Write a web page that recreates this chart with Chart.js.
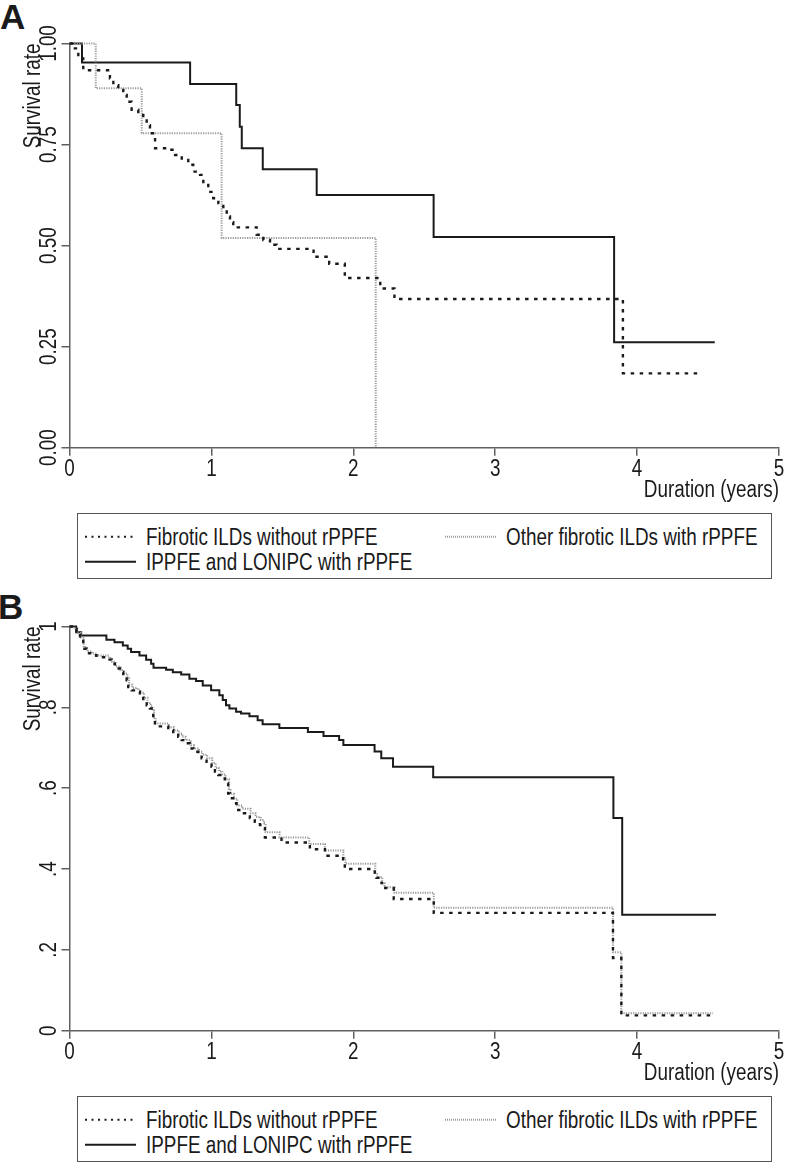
<!DOCTYPE html>
<html>
<head>
<meta charset="utf-8">
<script src="https://cdn.jsdelivr.net/npm/chart.js@4.4.1/dist/chart.umd.min.js"></script>
<style>
  html, body { margin: 0; padding: 0; background: #fff; }
  body { width: 787px; height: 1166px; position: relative; overflow: hidden;
         font-family: 'Liberation Sans', Arial, Helvetica, sans-serif; color: #1a1a1a; }
  .panel { position: absolute; left: 0; }
  .tag { position: absolute; font-weight: bold; font-size: 35px; line-height: 35px; }
  .legend { position: absolute; left: 77px; width: 695px; height: 66px; box-sizing: border-box;
            border: 1.5px solid #555; }
  .item { position: absolute; height: 26px; line-height: 26px; font-size: 23px; white-space: nowrap; }
  .item svg { position: absolute; left: 0; top: 0; }
  /* narrow type, like the original figure */
  .item span { position: absolute; left: 61px; top: 0; transform: scaleX(0.82); transform-origin: 0 50%; }
</style>
</head>
<body>
<div class="tag" style="left:0; top:-1.5px">A</div>
<canvas id="chartA" class="panel" width="787" height="510" style="top:0"></canvas>
<div class="legend" style="top:513px">
  <div class="item" style="left:6.5px; top:10px">
    <svg width="51" height="26"><line x1="0" y1="12.7" x2="51" y2="12.7" stroke="#1a1a1a" stroke-width="2" stroke-dasharray="2 4.5"/></svg>
    <span>Fibrotic ILDs without rPPFE</span></div>
  <div class="item" style="left:366.5px; top:10px">
    <svg width="51" height="26"><line x1="0" y1="12.7" x2="51" y2="12.7" stroke="#9a9a9a" stroke-width="2" stroke-dasharray="1 1"/></svg>
    <span>Other fibrotic ILDs with rPPFE</span></div>
  <div class="item" style="left:6.5px; top:35px">
    <svg width="51" height="26"><line x1="0" y1="12.7" x2="51" y2="12.7" stroke="#1a1a1a" stroke-width="2"/></svg>
    <span>IPPFE and LONIPC with rPPFE</span></div>
</div>

<div class="tag" style="left:-2px; top:588.5px">B</div>
<canvas id="chartB" class="panel" width="787" height="510" style="top:583px"></canvas>
<div class="legend" style="top:1096px">
  <div class="item" style="left:6.5px; top:10px">
    <svg width="51" height="26"><line x1="0" y1="12.7" x2="51" y2="12.7" stroke="#1a1a1a" stroke-width="2" stroke-dasharray="2 4.5"/></svg>
    <span>Fibrotic ILDs without rPPFE</span></div>
  <div class="item" style="left:366.5px; top:10px">
    <svg width="51" height="26"><line x1="0" y1="12.7" x2="51" y2="12.7" stroke="#9a9a9a" stroke-width="2" stroke-dasharray="1 1"/></svg>
    <span>Other fibrotic ILDs with rPPFE</span></div>
  <div class="item" style="left:6.5px; top:35px">
    <svg width="51" height="26"><line x1="0" y1="12.7" x2="51" y2="12.7" stroke="#1a1a1a" stroke-width="2"/></svg>
    <span>IPPFE and LONIPC with rPPFE</span></div>
</div>

<script>
// axis labels
const xTickLabels = ['0', '1', '2', '3', '4', '5'];
const yTickLabelsA = ['0.00', '0.25', '0.50', '0.75', '1.00'];
const yTickLabelsB = ['0', '.2', '.4', '.6', '.8', '1'];
const groupNames = ['Fibrotic ILDs without rPPFE', 'Other fibrotic ILDs with rPPFE', 'IPPFE and LONIPC with rPPFE'];

// Panel A - Kaplan-Meier steps (years, survival)
const timeA_noPPFE = [0, 0.027, 0.062, 0.097, 0.285, 0.309, 0.344, 0.379, 0.403, 0.438, 0.485, 0.52, 0.544, 0.567, 0.603,
  0.685, 0.744, 0.791, 0.837, 0.872, 0.92, 0.943, 0.978, 1.013, 1.049, 1.084, 1.108, 1.131, 1.154, 1.319, 1.366, 1.413,
  1.46, 1.72, 1.83, 1.94, 2.19, 2.29, 3.90, 4.44];
const survA_noPPFE = [1, 0.988, 0.963, 0.934, 0.914, 0.897, 0.889, 0.873, 0.856, 0.836, 0.823, 0.815, 0.798, 0.778, 0.741,
  0.737, 0.724, 0.712, 0.700, 0.683, 0.675, 0.654, 0.633, 0.617, 0.605, 0.592, 0.572, 0.558, 0.545, 0.527, 0.514, 0.502,
  0.492, 0.4725, 0.455, 0.42, 0.394, 0.368, 0.184, 0.184];

const timeA_other = [0, 0.185, 0.509, 1.072, 2.158];
const survA_other = [1, 0.889, 0.778, 0.519, 0];

const timeA_ippfe = [0, 0.088, 0.850, 1.175, 1.200, 1.214, 1.362, 1.742, 2.566, 3.838, 4.547];
const survA_ippfe = [1, 0.953, 0.900, 0.848, 0.794, 0.741, 0.689, 0.625, 0.521, 0.261, 0.261];

// Panel B
const timeB_noPPFE = [0, 0.027, 0.05, 0.074, 0.097, 0.121, 0.156, 0.19, 0.273, 0.297, 0.32, 0.356, 0.379, 0.403, 0.414,
  0.438, 0.473, 0.496, 0.52, 0.544, 0.567, 0.579, 0.59, 0.602, 0.696, 0.731, 0.766, 0.79, 0.813, 0.849, 0.872, 0.907,
  0.931, 0.966, 1.001, 1.025, 1.048, 1.072, 1.095, 1.118, 1.13, 1.154, 1.177, 1.213, 1.271, 1.306, 1.342, 1.365, 1.377,
  1.494, 1.694, 1.80, 1.928, 1.94, 2.151, 2.163, 2.199, 2.215, 2.285, 2.567, 3.83, 3.889, 4.534];
const survB_noPPFE = [1, 0.994, 0.982, 0.970, 0.945, 0.934, 0.929, 0.924, 0.918, 0.908, 0.896, 0.887, 0.879, 0.867, 0.850,
  0.842, 0.838, 0.830, 0.8175, 0.805, 0.797, 0.785, 0.768, 0.753, 0.7435, 0.735, 0.727, 0.719, 0.711, 0.698, 0.690, 0.682,
  0.674, 0.665, 0.653, 0.641, 0.6325, 0.624, 0.612, 0.587, 0.575, 0.563, 0.546, 0.538, 0.526, 0.517, 0.509, 0.501, 0.478,
  0.4657, 0.449, 0.433, 0.415, 0.400, 0.386, 0.378, 0.365, 0.353, 0.326, 0.2915, 0.180, 0.038, 0.038];

const timeB_other = [0, 0.03, 0.055, 0.08, 0.10, 0.125, 0.16, 0.195, 0.278, 0.30, 0.325, 0.36, 0.385, 0.408, 0.42,
  0.443, 0.478, 0.50, 0.525, 0.55, 0.572, 0.585, 0.596, 0.607, 0.70, 0.736, 0.77, 0.795, 0.818, 0.854, 0.877, 0.912,
  0.936, 0.97, 1.006, 1.03, 1.053, 1.077, 1.10, 1.123, 1.136, 1.159, 1.182, 1.218, 1.276, 1.311, 1.347, 1.37, 1.382,
  1.48, 1.69, 1.80, 1.93, 1.945, 2.155, 2.168, 2.204, 2.22, 2.29, 2.567, 3.83, 3.889, 4.534];
const survB_other = [1, 0.995, 0.984, 0.973, 0.949, 0.938, 0.933, 0.928, 0.922, 0.913, 0.901, 0.892, 0.884, 0.872, 0.856,
  0.848, 0.844, 0.836, 0.824, 0.811, 0.803, 0.792, 0.775, 0.760, 0.751, 0.743, 0.735, 0.727, 0.719, 0.706, 0.698, 0.690,
  0.683, 0.674, 0.662, 0.650, 0.642, 0.634, 0.622, 0.598, 0.586, 0.574, 0.557, 0.549, 0.538, 0.529, 0.521, 0.513, 0.491,
  0.478, 0.462, 0.446, 0.427, 0.413, 0.39, 0.38, 0.365, 0.355, 0.341, 0.304, 0.194, 0.043, 0.043];

const timeB_ippfe = [0, 0.047, 0.082, 0.26, 0.317, 0.376, 0.41, 0.434, 0.493, 0.54, 0.575, 0.592, 0.681, 0.728, 0.787,
  0.845, 0.892, 0.939, 0.998, 1.056, 1.08, 1.103, 1.127, 1.174, 1.209, 1.268, 1.326, 1.361, 1.479, 1.68, 1.79, 1.90,
  1.93, 2.15, 2.197, 2.28, 2.563, 3.833, 3.895, 4.556];
const survB_ippfe = [1, 0.986, 0.978, 0.967, 0.961, 0.953, 0.945, 0.937, 0.928, 0.918, 0.908, 0.898, 0.893, 0.887, 0.881,
  0.871, 0.865, 0.854, 0.842, 0.830, 0.818, 0.805, 0.797, 0.789, 0.785, 0.778, 0.768, 0.758, 0.749, 0.739, 0.729, 0.719,
  0.707, 0.691, 0.674, 0.653, 0.627, 0.526, 0.287, 0.287];

const ink = '#1a1a1a';
const axisColor = '#606060';
const font = { family: "'Liberation Sans', Arial, Helvetica, sans-serif", size: 23 };
const NARROW = 0.82; // no narrow font installed, so squeeze glyphs along the text direction

const toPoints = (times, surv) => times.map((t, i) => ({ x: t, y: surv[i] }));

// styles per group: dotted black, fine grey dots, solid black
const lineStyles = [
  { borderColor: ink, borderWidth: 2.4, borderDash: [3.5, 5.5] },
  { borderColor: '#9a9a9a', borderWidth: 2, borderDash: [1.2, 1.2] },
  { borderColor: ink, borderWidth: 2, borderDash: [] }
];

function narrowText(ctx) {
  const fill = CanvasRenderingContext2D.prototype.fillText;
  ctx.fillText = function (text, x, y) {
    this.save();
    this.translate(x, y);
    this.scale(NARROW, 1);
    fill.call(this, text, 0, 0);
    this.restore();
  };
}

function makeChart(canvasId, series, yLabels, yStep, yTickPad) {
  const ctx = document.getElementById(canvasId).getContext('2d');
  narrowText(ctx);
  return new Chart(ctx, {
    type: 'line',
    data: {
      datasets: series.map((s, i) => ({
        label: groupNames[i],
        data: toPoints(s[0], s[1]),
        stepped: true,
        fill: false,
        pointRadius: 0,
        clip: 6,
        ...lineStyles[i]
      }))
    },
    options: {
      responsive: false,
      animation: false,
      devicePixelRatio: 1,
      layout: { padding: { top: 43.5, right: 8, bottom: 2.3, left: 0 } },
      plugins: { legend: { display: false }, tooltip: { enabled: false } },
      scales: {
        x: {
          type: 'linear', min: 0, max: 5,
          ticks: { stepSize: 1, color: ink, font, padding: 0, maxRotation: 0,
                   callback: v => xTickLabels[Math.round(v)] },
          grid: { display: true, drawOnChartArea: false, drawTicks: true, tickLength: 8,
                  color: axisColor, lineWidth: 1.5 },
          border: { display: true, color: axisColor, width: 1.5 },
          title: { display: true, text: 'Duration (years)', align: 'end', color: ink, font,
                   padding: { top: 0, bottom: 3 } },
          afterFit: s => { s.height = 60; }
        },
        y: {
          min: 0, max: 1,
          ticks: { stepSize: yStep, color: ink, font, minRotation: 90, maxRotation: 90,
                   crossAlign: 'center', padding: yTickPad,
                   callback: v => yLabels[Math.round(v / yStep)] },
          grid: { display: true, drawOnChartArea: false, drawTicks: true, tickLength: 8,
                  color: axisColor, lineWidth: 1.5 },
          border: { display: true, color: axisColor, width: 1.5 },
          title: { display: true, text: 'Survival rate', align: 'end', color: ink, font,
                   padding: { top: 19.5, bottom: 0 } },
          afterFit: s => { s.width = 69.5; }
        }
      }
    }
  });
}

makeChart('chartA', [
  [timeA_noPPFE, survA_noPPFE],
  [timeA_other, survA_other],
  [timeA_ippfe, survA_ippfe]
], yTickLabelsA, 0.25, -10.4);

makeChart('chartB', [
  [timeB_noPPFE, survB_noPPFE],
  [timeB_other, survB_other],
  [timeB_ippfe, survB_ippfe]
], yTickLabelsB, 0.2, 2.7);
</script>
</body>
</html>
